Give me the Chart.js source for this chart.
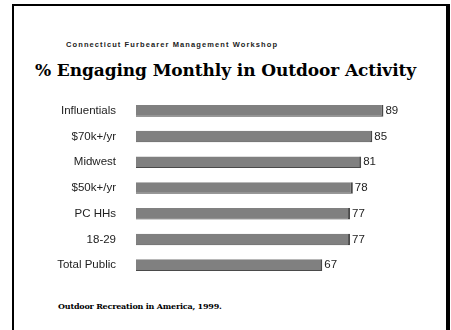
<!DOCTYPE html>
<html>
<head>
<meta charset="utf-8">
<script src="https://cdn.jsdelivr.net/npm/chart.js@4"></script>
<style>
    body { margin: 0; background: #fff; }
    #page { position: relative; width: 451px; height: 330px; overflow: hidden; }
    #frame {
        position: absolute; left: 12px; top: 4px; width: 432px; height: 340px;
        border-left: 2px solid #000; border-top: 2px solid #000; border-right: 4px solid #000;
    }
    #workshop {
        position: absolute; left: 66px; top: 40px;
        font: bold 7.5px "Liberation Sans", Arial, sans-serif; letter-spacing: 1.1px; color: #222;
    }
    #title {
        position: absolute; left: 0; width: 451px; top: 60px; text-align: center;
        font: bold 17px "DejaVu Serif", serif; color: #000; white-space: nowrap; letter-spacing: -0.1px;
    }
    #source {
        position: absolute; left: 58px; top: 301px;
        font: bold 8px "DejaVu Serif", serif; color: #000; white-space: nowrap; letter-spacing: -0.2px;
    }
    canvas { position: absolute; left: 0; top: 0; }
</style>
</head>
<body>
<div id="page">
    <div id="frame"></div>
    <div id="workshop">Connecticut Furbearer Management Workshop</div>
    <div id="title">% Engaging Monthly in Outdoor Activity</div>
    <div id="source">Outdoor Recreation in America, 1999.</div>
    <canvas id="chart" width="451" height="330"></canvas>
</div>
<script>
const groups = ["Influentials", "$70k+/yr", "Midwest", "$50k+/yr", "PC HHs", "18-29", "Total Public"];
const percents = [89, 85, 81, 78, 77, 77, 67];

// value at the end of each bar
const valueLabels = {
    id: 'valueLabels',
    afterDatasetsDraw(chart) {
        const ctx = chart.ctx;
        const meta = chart.getDatasetMeta(0);
        ctx.save();
        ctx.font = '11.5px "Liberation Sans", Arial, sans-serif';
        ctx.fillStyle = '#222';
        ctx.textBaseline = 'middle';
        meta.data.forEach((bar, i) => {
            ctx.fillText(percents[i], bar.x + 2, bar.y);
        });
        ctx.restore();
    }
};

const ctx = document.getElementById('chart').getContext('2d');

new Chart(ctx, {
    type: 'bar',
    data: {
        labels: groups,
        datasets: [{
            data: percents,
            backgroundColor: '#808080',
            borderColor: '#4a4a4a',
            borderWidth: { right: 2, bottom: 1, top: 0, left: 0 },
            borderSkipped: false,
            barPercentage: 0.9,
            categoryPercentage: 0.5
        }]
    },
    options: {
        indexAxis: 'y',
        responsive: false,
        animation: false,
        layout: { padding: { top: 98, bottom: 52, right: 37, left: 0 } },
        plugins: {
            legend: { display: false },
            tooltip: { enabled: false }
        },
        scales: {
            x: { display: false, min: 0, max: 100 },
            y: {
                grid: { display: false },
                border: { display: false },
                ticks: {
                    padding: 12,
                    color: '#222',
                    font: { family: '"Liberation Sans", Arial, sans-serif', size: 11.5 }
                },
                afterFit(scale) { scale.width = 136; }
            }
        }
    },
    plugins: [valueLabels]
});
</script>
</body>
</html>
